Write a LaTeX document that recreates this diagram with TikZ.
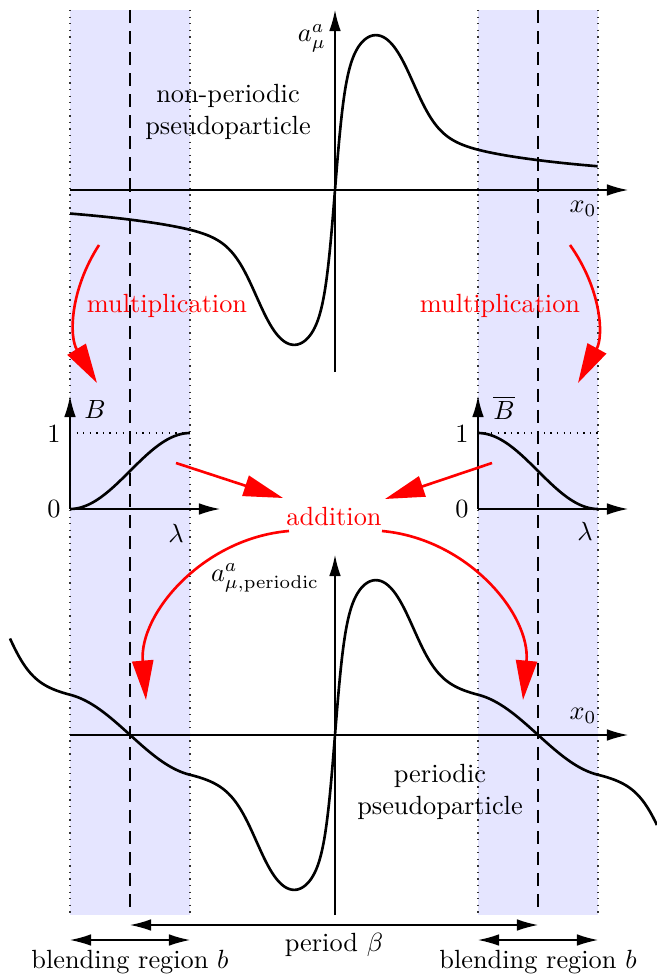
\documentclass[tikz,border=0pt]{standalone}
\usetikzlibrary{arrows.meta}
\begin{document}
\begin{tikzpicture}[x=0.38pt,y=-0.38pt,
  declare function={
    cl(\myz)=max(-4,min(4,\myz));
    fa(\myu)=104*tanh(cl(10*\myu))*0.5*(1+tanh(cl((0.78-abs(\myu))*3.846)))+65*\myu/(\myu*\myu+0.3025);
    sb(\myt)=(1-cos(180*max(0,min(1,\myt))))/2;
    gp(\myu)=(\myu>1.43) ? ((1-sb((\myu-1.43)/1.2))*fa(\myu)+sb((\myu-1.43)/1.2)*fa(\myu-4.08)) : ((\myu<-1.45) ? (sb((\myu+2.65)/1.2)*fa(\myu)+(1-sb((\myu+2.65)/1.2))*fa(\myu+4.08)) : fa(\myu));
  },
  curve/.style={line width=1pt, line join=round},
  axis/.style={line width=0.5pt,-{Latex[length=8pt,width=4.4pt]}},
  dblarrow/.style={line width=0.5pt,{Latex[length=8pt,width=4.4pt]}-{Latex[length=8pt,width=4.4pt]}},
  redarrow/.style={red, line width=1pt, -{Triangle[length=15pt,width=8pt]}},
  band/.style={fill=blue!10, draw=none},
  border/.style={dotted, line width=0.5pt, black!80},
  midline/.style={dash pattern=on 5pt off 3pt, line width=0.5pt},
  lbl/.style={inner sep=0pt},
  redlbl/.style={text=red, inner sep=0pt}]
\useasboundingbox (0,0) rectangle (657,975);

% bands
\fill[band] (70,10) rectangle (190,915);
\fill[band] (478,10) rectangle (598,915);
\foreach \xx in {70,190,478,598} \draw[border] (\xx,10) -- (\xx,915);
\foreach \xx in {130,538} \draw[midline] (\xx,10) -- (\xx,915);

% ---------- top plot ----------
\coordinate (tL) at (70,190);
\coordinate (tR) at (628,190);
\coordinate (tB) at (335,372);
\coordinate (tT) at (335,10);
\draw[axis] (tL) -- (tR);
\draw[axis] (tB) -- (tT);
\node[lbl] (ta) at (312,38) {$a^a_\mu$};
\node[lbl] (tx) at (583,209) {$x_0$};
\draw[curve] plot[domain=-2.65:2.63, samples=320, smooth] ({335+100*\x},{190-fa(\x)});
\node[lbl, align=center] (np) at (228,112) {non-periodic\\pseudoparticle};

% multiplication arrows
\coordinate (m1s) at (99,245);
\coordinate (m1e) at (97,383);
\coordinate (m2s) at (570,245);
\coordinate (m2e) at (578,383);
\draw[redarrow] (m1s) to[bend right=32] (m1e);
\draw[redarrow] (m2s) to[bend left=32] (m2e);
\node[redlbl] (mul1) at (167,306) {multiplication};
\node[redlbl] (mul2) at (500,306) {multiplication};

% ---------- B plot ----------
\coordinate (bO) at (70,509);
\coordinate (bX) at (220,509);
\coordinate (bY) at (70,396);
\draw[axis] (bO) -- (bX);
\draw[axis] (bO) -- (bY);
\draw[dotted, line width=0.5pt] (70,433) -- (190,433);
\draw[curve] plot[domain=0:1, samples=40, smooth] ({70+120*\x},{509-76*(1-cos(180*\x))/2});
\node[lbl] (Blab) at (95,410) {$B$};
\node[lbl] (B1) at (54,434) {1};
\node[lbl] (B0) at (54,509) {0};
\node[lbl] (Bl) at (176,533) {$\lambda$};

% ---------- Bbar plot ----------
\coordinate (cO) at (478,509);
\coordinate (cX) at (628,509);
\coordinate (cY) at (478,396);
\draw[axis] (cO) -- (cX);
\draw[axis] (cO) -- (cY);
\draw[dotted, line width=0.5pt] (478,433) -- (598,433);
\draw[curve] plot[domain=0:1, samples=40, smooth] ({478+120*\x},{433+76*(1-cos(180*\x))/2});
\node[lbl] (Cbar) at (504,408) {$\overline{B}$};
\node[lbl] (C1) at (462,434) {1};
\node[lbl] (C0) at (462,509) {0};
\node[lbl] (Cl) at (585,531) {$\lambda$};

% addition
\node[redlbl] (add) at (334,517) {addition};
\coordinate (a1s) at (176,463);
\coordinate (a1e) at (283,498);
\coordinate (a2s) at (492,463);
\coordinate (a2e) at (385,499);
\draw[redarrow] (a1s) -- (a1e);
\draw[redarrow] (a2s) -- (a2e);
\coordinate (d1s) at (289,531);
\coordinate (d1e) at (146,700);
\coordinate (d2s) at (382,531);
\coordinate (d2e) at (523,700);
\draw[redarrow] (d1s) to[bend right=45] (d1e);
\draw[redarrow] (d2s) to[bend left=45] (d2e);

% ---------- bottom plot ----------
\coordinate (pL) at (70,735);
\coordinate (pR) at (628,735);
\coordinate (pB) at (335,915);
\coordinate (pT) at (335,555);
\draw[axis] (pL) -- (pR);
\draw[axis] (pB) -- (pT);
\node[lbl] (pa) at (265,578) {$a^a_{\mu,\mathrm{periodic}}$};
\node[lbl] (px) at (583,716) {$x_0$};
\draw[curve] plot[domain=-3.25:3.22, samples=360, smooth] ({335+100*\x},{735-gp(\x)});
\node[lbl, align=center] (pp) at (440,792) {periodic\\pseudoparticle};

% period and blending arrows
\coordinate (perL) at (130,925);
\coordinate (perR) at (538,925);
\draw[dblarrow] (perL) -- (perR);
\node[lbl] (per) at (334,945) {period $\beta$};
\coordinate (b1L) at (70,940);
\coordinate (b1R) at (190,940);
\coordinate (b2L) at (478,940);
\coordinate (b2R) at (598,940);
\draw[dblarrow] (b1L) -- (b1R);
\draw[dblarrow] (b2L) -- (b2R);
\node[lbl] (bl1) at (130,962) {blending region $b$};
\node[lbl] (bl2) at (538,962) {blending region $b$};
\end{tikzpicture}
\end{document}
